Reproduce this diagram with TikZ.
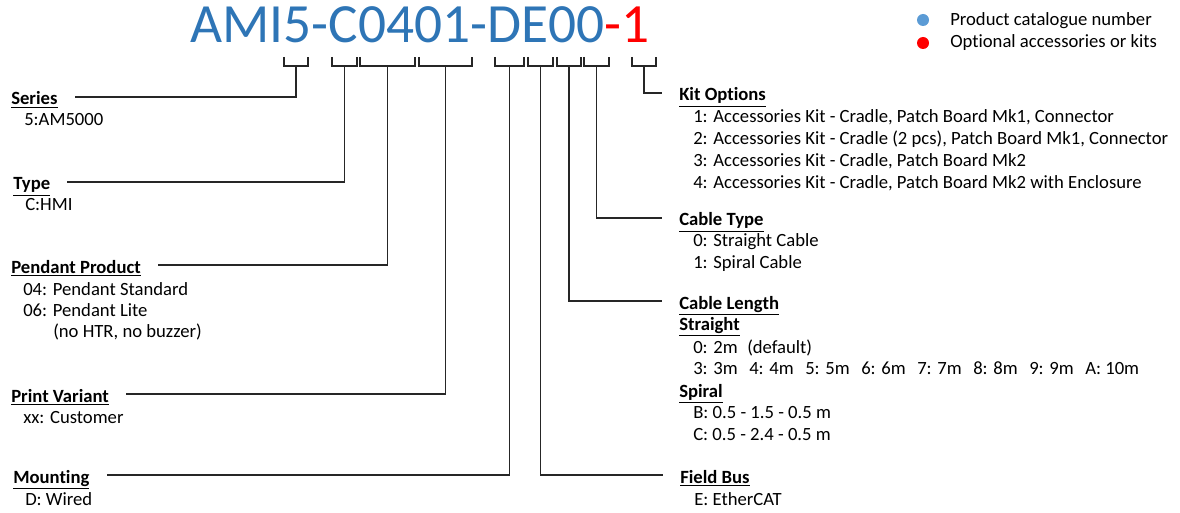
\documentclass[tikz,border=0pt]{standalone}
\usepackage{fontspec}
\setmainfont{Carlito}[Ligatures=NoCommon]
\usetikzlibrary{positioning,calc}
\definecolor{codeBlue}{RGB}{46,117,182}
\definecolor{dotBlue}{RGB}{91,155,213}
\definecolor{optRed}{RGB}{255,0,0}
\tikzset{
    every node/.append style={inner sep=0pt},
    head/.style={anchor=base west,font=\fontsize{14}{17}\selectfont\bfseries,
        text height=12pt,text depth=0pt},
    item/.style={anchor=base west,font=\fontsize{14}{17}\selectfont},
    brk/.style={draw=black!85,line width=0.8pt},
    conn/.style={draw=black!85,line width=0.8pt,shorten >=12.75pt},
    dot/.style={circle,minimum size=9pt}
}
\begin{document}
\begin{tikzpicture}[x=0.75pt,y=-0.75pt]
    \useasboundingbox (0,0) rectangle (1180,513);

    % part number
    \node[anchor=base west,font=\fontsize{41.5}{44}\selectfont] (code) at (190,43)
        {\textcolor{codeBlue}{AMI5-C0401-DE00}\textcolor{optRed}{-1}};

    % legend
    \node[dot,fill=dotBlue] (dblue) at (923,20) {};
    \node[dot,fill=optRed]  (dred)  at (923,43) {};
    \node[item,anchor=west] (lblue) at (950,21) {Product catalogue number};
    \node[item,anchor=west] (lred)  at (950,43) {Optional accessories or kits};

    % left column
    \node[head] (series)  at (11,105) {\underline{Series}};
    \node[item] (ser5)    at (24,126) {5:AM5000};
    \node[head] (type)    at (13,190) {\underline{Type}};
    \node[item] (typeC)   at (25,210) {C:HMI};
    \node[head] (pendant) at (11,273) {\underline{Pendant Product}};
    \node[item] (pend04)  at (23,295) {04: Pendant Standard};
    \node[item] (pend06)  at (23,316) {06: Pendant Lite};
    \node[item] (pendNo)  at (53,337) {(no HTR, no buzzer)};
    \node[head] (print)   at (11,402) {\underline{Print Variant}};
    \node[item] (printXX) at (23,423) {xx: Customer};
    \node[head] (mount)   at (13,483) {\underline{Mounting}};
    \node[item] (mountD)  at (25,505) {D: Wired};

    % right column
    \node[head] (kit) at (679,101) {\underline{Kit Options}};
    \foreach \t [count=\i from 0] in {{1: Accessories Kit - Cradle, Patch Board Mk1, Connector},
        {2: Accessories Kit - Cradle (2 pcs), Patch Board Mk1, Connector},
        {3: Accessories Kit - Cradle, Patch Board Mk2},
        {4: Accessories Kit - Cradle, Patch Board Mk2 with Enclosure}}
        { \node[item] (kit\i) at (693,123+22*\i) {\t}; }

    \node[head] (cable)  at (679,226) {\underline{Cable Type}};
    \node[item] (cable0) at (693,247) {0: Straight Cable};
    \node[item] (cable1) at (693,268) {1: Spiral Cable};

    \node[head] (length)   at (679,309) {\underline{Cable Length}};
    \node[head] (straight) at (679,330) {\underline{Straight}};
    \node[item] (len2m)    at (693,353) {0: 2m};
    \node[item] (lenDef)   at (747,353) {(default)};
    \foreach \t [count=\i from 0] in {3: 3m,4: 4m,5: 5m,6: 6m,7: 7m,8: 8m,9: 9m,A: 10m}
        { \node[item] (len\i) at (693+56*\i,374) {\t}; }
    \node[head] (spiral) at (679,397) {\underline{Spiral}};
    \node[item] (spirB)  at (693,418) {B: 0.5 - 1.5 - 0.5 m};
    \node[item] (spirC)  at (693,440) {C: 0.5 - 2.4 - 0.5 m};

    \node[head] (bus)  at (680,483) {\underline{Field Bus}};
    \node[item] (busE) at (694,505) {E: EtherCAT};

    % brackets under the code
    \foreach \a/\b/\n in {284/308/bSeries,332/357/bType,360/415/bPendant,419/472/bPrint,
        495/524/bMount,528/553/bBus,557/581/bLength,584/609/bCable,632/656/bKit} {
        \draw[brk] (\a,57) -- (\a,66) -- (\b,66) -- (\b,57);
        \coordinate (\n) at ({(\a+\b)/2},66);
    }

    \draw[conn] (bSeries)  |- (series.east);
    \draw[conn] (bType)    |- (type.east);
    \draw[conn] (bPendant) |- (pendant.east);
    \draw[conn] (bPrint)   |- (print.east);
    \draw[conn] (bMount)   |- (mount.east);
    \draw[conn] (bBus)     |- (bus.west);
    \draw[conn] (bLength)  |- (length.west);
    \draw[conn] (bCable)   |- (cable.west);
    \draw[conn] (bKit)     |- (kit.west);
\end{tikzpicture}
\end{document}
